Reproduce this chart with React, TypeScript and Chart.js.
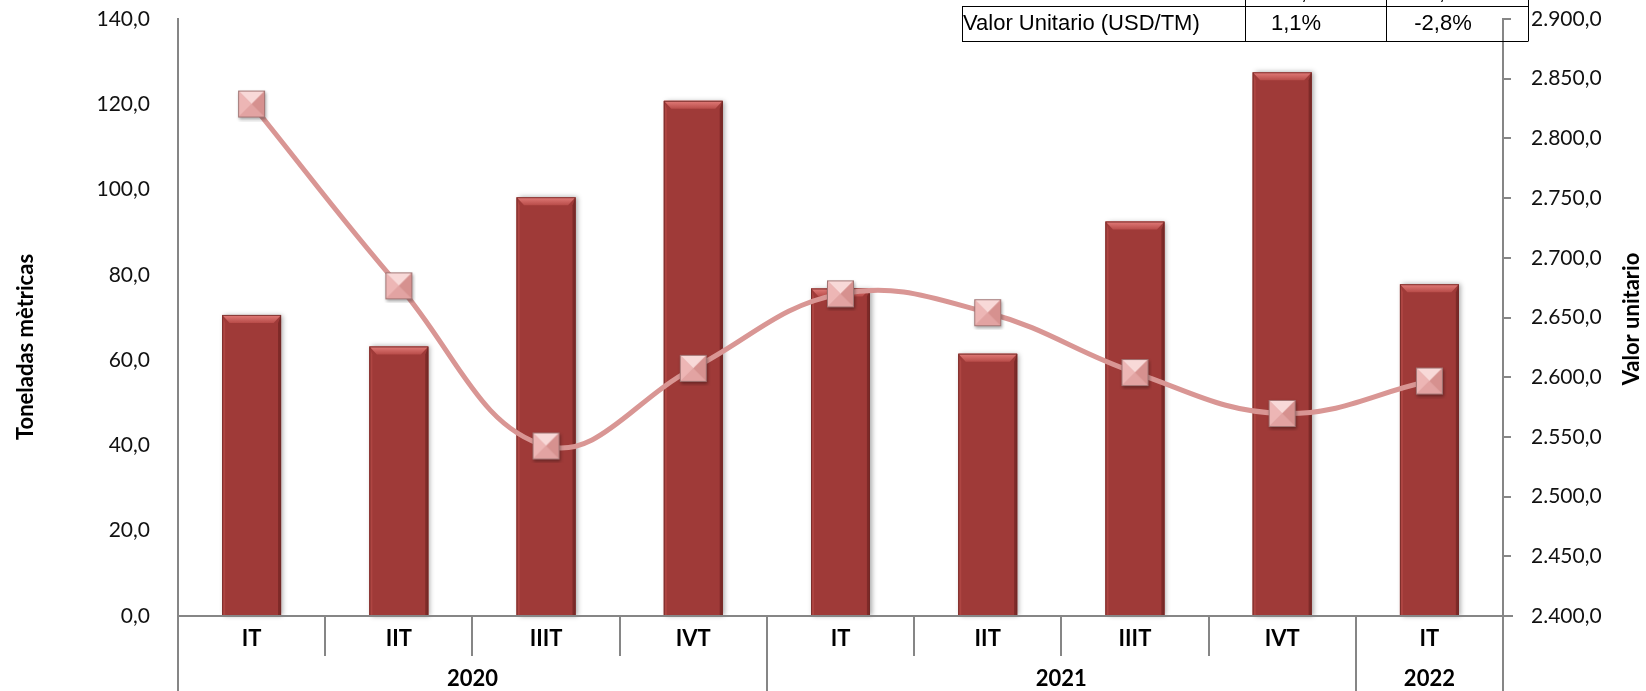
import React, { useEffect, useRef } from "react";
import { Chart, registerables } from "chart.js";
Chart.register(...registerables);

const quarters = ["IT", "IIT", "IIIT", "IVT", "IT", "IIT", "IIIT", "IVT", "IT"];
const years = ["2020", "2021", "2022"];
const yearSpans = [4, 4, 1];
const tonnes = [70.6, 63.2, 98.2, 120.8, 76.8, 61.5, 92.5, 127.5, 77.8];
const unitValue = [2828.8, 2676.5, 2542.4, 2607.4, 2669.8, 2654.0, 2603.9, 2569.6, 2596.8];
const leftTitle = "Toneladas mètricas";
const rightTitle = "Valor unitario";
const tableLabel = "Valor Unitario (USD/TM)";
const tableValues = ["1,1%", "-2,8%"];

const LABEL_FONT = "Lato, 'Open Sans', sans-serif";
const AXIS_COLOR = "#868686";

function fmt(v: number): string {
  const s = v.toFixed(1);
  const [i, d] = s.split(".");
  const withSep = i.replace(/\B(?=(\d{3})+(?!\d))/g, ".");
  return withSep + "," + d;
}

function makeMarker(): HTMLCanvasElement {
  const pad = 4;
  const s = 27;
  const c = document.createElement("canvas");
  c.width = s + pad * 2;
  c.height = s + pad * 2;
  const g = c.getContext("2d")!;
  const x0 = pad, y0 = pad, x1 = pad + s, y1 = pad + s;
  const mx = pad + s / 2, my = pad + s / 2;
  g.save();
  g.shadowColor = "rgba(0,0,0,0.35)";
  g.shadowBlur = 3;
  g.shadowOffsetX = 1;
  g.shadowOffsetY = 2;
  g.fillStyle = "#DD9C9B";
  g.fillRect(x0, y0, s, s);
  g.restore();
  const tri = (pts: number[][], col: string) => {
    g.beginPath();
    g.moveTo(pts[0][0], pts[0][1]);
    g.lineTo(pts[1][0], pts[1][1]);
    g.lineTo(pts[2][0], pts[2][1]);
    g.closePath();
    g.fillStyle = col;
    g.fill();
  };
  tri([[x0, y0], [x1, y0], [mx, my]], "#F8D9D8");
  tri([[x0, y0], [x0, y1], [mx, my]], "#EDB6B5");
  tri([[x1, y0], [x1, y1], [mx, my]], "#D6918F");
  tri([[x0, y1], [x1, y1], [mx, my]], "#E2A3A2");
  g.strokeStyle = "#A27574";
  g.lineWidth = 1;
  g.strokeRect(x0 + 0.5, y0 + 0.5, s - 1, s - 1);
  return c;
}

const barBevelPlugin = {
  id: "barBevel",
  beforeDatasetDraw(chart: any, args: any) {
    if (args.index !== 0) return;
    const ctx = chart.ctx;
    const meta = chart.getDatasetMeta(0);
    ctx.save();
    ctx.shadowColor = "rgba(0,0,0,0.35)";
    ctx.shadowBlur = 5;
    ctx.shadowOffsetX = 2;
    ctx.shadowOffsetY = 0;
    ctx.fillStyle = "#9F3A38";
    meta.data.forEach((el: any) => {
      const w = el.width;
      ctx.fillRect(el.x - w / 2, el.y, w, el.base - el.y);
    });
    ctx.restore();
  },
  afterDatasetDraw(chart: any, args: any) {
    if (args.index !== 0) return;
    const ctx = chart.ctx;
    const meta = chart.getDatasetMeta(0);
    ctx.save();
    meta.data.forEach((el: any) => {
      const w = el.width;
      const l = el.x - w / 2, r = el.x + w / 2, t = el.y, b = el.base;
      const bv = 8, sv = 3;
      ctx.fillStyle = "#AE4542";
      ctx.beginPath();
      ctx.moveTo(l, t); ctx.lineTo(l + sv, t + bv); ctx.lineTo(l + sv, b); ctx.lineTo(l, b);
      ctx.closePath(); ctx.fill();
      ctx.fillStyle = "#7D2A28";
      ctx.beginPath();
      ctx.moveTo(r, t); ctx.lineTo(r - sv, t + bv); ctx.lineTo(r - sv, b); ctx.lineTo(r, b);
      ctx.closePath(); ctx.fill();
      const gr = ctx.createLinearGradient(0, t, 0, t + bv);
      gr.addColorStop(0, "#E27C79");
      gr.addColorStop(1, "#B84C49");
      ctx.fillStyle = gr;
      ctx.beginPath();
      ctx.moveTo(l, t); ctx.lineTo(r, t); ctx.lineTo(r - sv * 2.5, t + bv); ctx.lineTo(l + sv * 2.5, t + bv);
      ctx.closePath(); ctx.fill();
      ctx.strokeStyle = "rgba(110,40,38,0.8)";
      ctx.lineWidth = 1;
      ctx.strokeRect(l + 0.5, t + 0.5, w - 1, b - t - 0.5);
    });
    ctx.restore();
  },
};

const decorPlugin = {
  id: "decor",
  afterDraw(chart: any) {
    const ctx = chart.ctx;
    const xs = chart.scales.x;
    const area = chart.chartArea;
    const H = chart.height;
    const n = quarters.length;
    const y0 = area.bottom;
    const bounds: number[] = [];
    for (let i = 0; i <= n; i++) {
      if (i === 0) bounds.push(area.left);
      else if (i === n) bounds.push(area.right);
      else bounds.push((xs.getPixelForValue(i - 1) + xs.getPixelForValue(i)) / 2);
    }
    const yearStarts = new Set<number>();
    let acc = 0;
    yearStarts.add(0);
    yearSpans.forEach((s) => { acc += s; yearStarts.add(acc); });

    ctx.save();
    ctx.strokeStyle = AXIS_COLOR;
    ctx.lineWidth = 2;
    ctx.beginPath();
    ctx.moveTo(area.left, y0);
    ctx.lineTo(area.right + 10, y0);
    ctx.stroke();
    bounds.forEach((bx, i) => {
      const isYear = yearStarts.has(i);
      ctx.beginPath();
      ctx.moveTo(Math.round(bx), y0);
      ctx.lineTo(Math.round(bx), isYear ? H : y0 + 40);
      ctx.stroke();
    });
    ctx.fillStyle = "#000";
    ctx.font = `bold 22px ${LABEL_FONT}`;
    ctx.textAlign = "center";
    ctx.textBaseline = "middle";
    quarters.forEach((q, i) => {
      ctx.fillText(q, xs.getPixelForValue(i), y0 + 23);
    });
    let start = 0;
    years.forEach((yr, k) => {
      const end = start + yearSpans[k];
      const cx = (bounds[start] + bounds[end]) / 2;
      ctx.fillText(yr, cx, y0 + 63);
      start = end;
    });
    ctx.font = `bold 22px ${LABEL_FONT}`;
    ctx.save();
    ctx.translate(26, 347);
    ctx.rotate(-Math.PI / 2);
    ctx.fillText(leftTitle, 0, 0);
    ctx.restore();
    ctx.save();
    ctx.translate(1632, 319);
    ctx.rotate(-Math.PI / 2);
    ctx.fillText(rightTitle, 0, 0);
    ctx.restore();

    ctx.strokeStyle = "#000";
    ctx.lineWidth = 1;
    const tl = 962, c1 = 1245, c2 = 1386, tr = 1528, ty = 6.5, tb = 41.5;
    ctx.beginPath();
    ctx.moveTo(tl, ty); ctx.lineTo(tr, ty);
    ctx.moveTo(tl, tb); ctx.lineTo(tr, tb);
    ctx.moveTo(tl + 0.5, ty); ctx.lineTo(tl + 0.5, tb);
    ctx.moveTo(c1 + 0.5, 0); ctx.lineTo(c1 + 0.5, tb);
    ctx.moveTo(c2 + 0.5, 0); ctx.lineTo(c2 + 0.5, tb);
    ctx.moveTo(tr + 0.5, 0); ctx.lineTo(tr + 0.5, tb);
    ctx.stroke();
    ctx.font = "22px 'Liberation Sans', Arial, sans-serif";
    ctx.textBaseline = "middle";
    ctx.textAlign = "left";
    ctx.fillText(tableLabel, 963, 24);
    ctx.textAlign = "center";
    ctx.fillText(tableValues[0], 1296, 24);
    ctx.fillText(tableValues[1], 1443, 24);
    ctx.textBaseline = "alphabetic";
    ctx.fillText(",", 1304, -1);
    ctx.fillText(",", 1442, -1);
    ctx.restore();

    ctx.save();
    ctx.strokeStyle = AXIS_COLOR;
    ctx.lineWidth = 2;
    ctx.beginPath();
    ctx.moveTo(area.left, y0);
    ctx.lineTo(area.left, H);
    ctx.moveTo(area.right, y0);
    ctx.lineTo(area.right, H);
    ctx.stroke();
    ctx.restore();
  },
};

export default function App() {
  const ref = useRef<HTMLCanvasElement | null>(null);
  useEffect(() => {
    document.body.style.margin = "0";
    const marker = makeMarker();
    const chart = new Chart(ref.current!, {
      data: {
        labels: quarters,
        datasets: [
          {
            type: "bar",
            data: tonnes,
            backgroundColor: "#9F3A38",
            borderWidth: 0,
            yAxisID: "y",
            order: 1,
            barPercentage: 0.4,
            categoryPercentage: 1,
          },
          {
            type: "line",
            data: unitValue,
            borderColor: "#D99694",
            borderWidth: 5,
            tension: 0.4,
            pointStyle: marker as any,
            pointRadius: 14,
            yAxisID: "y1",
            order: 0,
          },
        ],
      } as any,
      options: {
        responsive: false,
        animation: false,
        layout: { padding: { top: 19, left: 0, right: 0, bottom: 0 } },
        plugins: { legend: { display: false }, tooltip: { enabled: false } },
        scales: {
          x: {
            type: "category",
            offset: true,
            grid: { display: false, drawTicks: false },
            border: { display: false },
            ticks: { display: false },
            afterFit: (s: any) => { s.height = 75; },
          },
          y: {
            position: "left",
            min: 0,
            max: 140,
            grid: { display: false, drawTicks: false },
            border: { display: true, color: AXIS_COLOR, width: 2 },
            ticks: {
              stepSize: 20,
              padding: 28,
              color: "#111",
              font: { family: LABEL_FONT, size: 21 },
              callback: (v: any) => fmt(Number(v)),
            },
            afterFit: (s: any) => { s.width = 178; s.paddingTop = 0; s.paddingBottom = 0; },
          },
          y1: {
            position: "right",
            min: 2400,
            max: 2900,
            grid: { drawOnChartArea: false, drawTicks: true, tickLength: 8, color: AXIS_COLOR, lineWidth: 2 },
            border: { display: true, color: AXIS_COLOR, width: 2 },
            ticks: {
              stepSize: 50,
              padding: 20,
              color: "#111",
              font: { family: LABEL_FONT, size: 21 },
              callback: (v: any) => fmt(Number(v)),
            },
            afterFit: (s: any) => { s.width = 143; s.paddingTop = 0; s.paddingBottom = 0; },
          },
        },
      } as any,
      plugins: [barBevelPlugin, decorPlugin],
    });
    return () => chart.destroy();
  }, []);
  return (
    <div style={{ width: 1646, height: 691 }}>
      <canvas ref={ref} width={1646} height={691} />
    </div>
  );
}
